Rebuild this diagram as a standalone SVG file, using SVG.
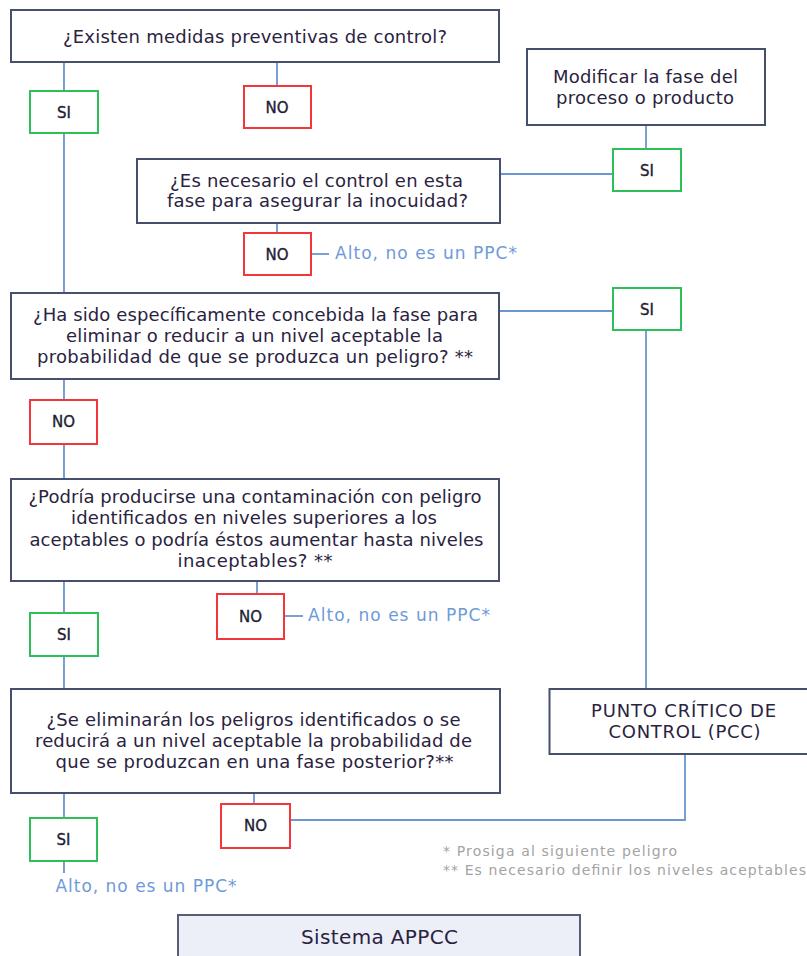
<svg xmlns="http://www.w3.org/2000/svg" width="807" height="956" viewBox="0 0 807 956">
<style>
.q{fill:#fff;stroke:#46506c;stroke-width:2}
.si{fill:#fff;stroke:#2fbf5a;stroke-width:2}
.no{fill:#fff;stroke:#f2363a;stroke-width:2}
.t{font-family:"DejaVu Sans",Verdana,sans-serif;font-size:18px;fill:#2a2340}
.lb{font-family:"DejaVu Sans",Verdana,sans-serif;font-size:15px;fill:#221c33;stroke:#221c33;stroke-width:0.35;text-anchor:middle}
.alto{font-family:"DejaVu Sans",Verdana,sans-serif;font-size:17px;fill:#6e9ad8}
.note{font-family:"DejaVu Sans",Verdana,sans-serif;font-size:14px;fill:#a3a3a3}
.c{fill:none;stroke:#6b96d0;stroke-width:1.8}
</style>
<rect width="807" height="956" fill="#fff"/>
<g id="connectors">
<path class="c" d="M64 62V91M64 133V293"/>
<path class="c" d="M277 62V86M277 223V233"/>
<path class="c" d="M311 254H329"/>
<path class="c" d="M646 125V149"/>
<path class="c" d="M500 174H613"/>
<path class="c" d="M499 311H613"/>
<path class="c" d="M646 331V689"/>
<path class="c" d="M64 379V400M64 444V479"/>
<path class="c" d="M64 581V613M64 656V689"/>
<path class="c" d="M257 581V594"/>
<path class="c" d="M284 616H303"/>
<path class="c" d="M64 793V818M64 861V873"/>
<path class="c" d="M254 793V804"/>
<path class="c" d="M685 754V820H290"/>
</g>
<g id="q1">
<rect class="q" x="11" y="10" width="488" height="52"/>
<text class="t" x="63" y="43" textLength="384" lengthAdjust="spacing">¿Existen medidas preventivas de control?</text>
</g>
<g id="si1"><rect class="si" x="30" y="91" width="68" height="42"/><text class="lb" x="64" y="117.5">SI</text></g>
<g id="no1"><rect class="no" x="244" y="86" width="67" height="42"/><text class="lb" x="277" y="112.5">NO</text></g>
<g id="modificar">
<rect class="q" x="527" y="49" width="238" height="76"/>
<text class="t" x="553" y="83" textLength="185" lengthAdjust="spacing">Modificar la fase del</text>
<text class="t" x="556" y="104" textLength="178" lengthAdjust="spacing">proceso o producto</text>
</g>
<g id="si2"><rect class="si" x="613" y="149" width="68" height="42"/><text class="lb" x="647" y="175.5">SI</text></g>
<g id="q2">
<rect class="q" x="137" y="159" width="363" height="64"/>
<text class="t" x="170" y="187" textLength="293" lengthAdjust="spacing">¿Es necesario el control en esta</text>
<text class="t" x="167" y="207" textLength="301" lengthAdjust="spacing">fase para asegurar la inocuidad?</text>
</g>
<g id="no2"><rect class="no" x="244" y="233" width="67" height="42"/><text class="lb" x="277" y="259.5">NO</text></g>
<text id="alto1" class="alto" x="335" y="259" textLength="182" lengthAdjust="spacing">Alto, no es un PPC*</text>
<g id="q3">
<rect class="q" x="11" y="293" width="488" height="86"/>
<text class="t" x="33" y="320.5" textLength="445" lengthAdjust="spacing">¿Ha sido específicamente concebida la fase para</text>
<text class="t" x="66" y="341.5" textLength="377" lengthAdjust="spacing">eliminar o reducir a un nivel aceptable la</text>
<text class="t" x="37" y="362.5" textLength="436" lengthAdjust="spacing">probabilidad de que se produzca un peligro? **</text>
</g>
<g id="si3"><rect class="si" x="613" y="288" width="68" height="42"/><text class="lb" x="647" y="314.5">SI</text></g>
<g id="no3"><rect class="no" x="30" y="400" width="67" height="44"/><text class="lb" x="63.5" y="427">NO</text></g>
<g id="q4">
<rect class="q" x="11" y="479" width="488" height="102"/>
<text class="t" x="28.5" y="503" textLength="453" lengthAdjust="spacing">¿Podría producirse una contaminación con peligro</text>
<text class="t" x="71" y="524" textLength="366" lengthAdjust="spacing">identificados en niveles superiores a los</text>
<text class="t" x="29.5" y="545.5" textLength="454" lengthAdjust="spacing">aceptables o podría éstos aumentar hasta niveles</text>
<text class="t" x="177.5" y="567" textLength="155" lengthAdjust="spacing">inaceptables? **</text>
</g>
<g id="si4"><rect class="si" x="30" y="613" width="68" height="43"/><text class="lb" x="64" y="639.5">SI</text></g>
<g id="no4"><rect class="no" x="217" y="594" width="67" height="45"/><text class="lb" x="250.5" y="621.5">NO</text></g>
<text id="alto2" class="alto" x="308" y="620.5" textLength="182" lengthAdjust="spacing">Alto, no es un PPC*</text>
<g id="q5">
<rect class="q" x="11" y="689" width="489" height="104"/>
<text class="t" x="46.5" y="725.5" textLength="414" lengthAdjust="spacing">¿Se eliminarán los peligros identificados o se</text>
<text class="t" x="35" y="746.5" textLength="437" lengthAdjust="spacing">reducirá a un nivel aceptable la probabilidad de</text>
<text class="t" x="55.5" y="767.5" textLength="398" lengthAdjust="spacing">que se produzcan en una fase posterior?**</text>
</g>
<g id="pcc">
<rect class="q" x="549.5" y="689" width="270" height="65"/>
<text class="t" x="591" y="717" textLength="185" lengthAdjust="spacing">PUNTO CRÍTICO DE</text>
<text class="t" x="608.5" y="738" textLength="152" lengthAdjust="spacing">CONTROL (PCC)</text>
</g>
<g id="si5"><rect class="si" x="30" y="818" width="67" height="43"/><text class="lb" x="63.5" y="844.5">SI</text></g>
<g id="no5"><rect class="no" x="221" y="804" width="69" height="44"/><text class="lb" x="255.5" y="831">NO</text></g>
<text id="alto3" class="alto" x="55.5" y="891.5" textLength="181" lengthAdjust="spacing">Alto, no es un PPC*</text>
<g id="notes">
<text class="note" x="443" y="856" textLength="234" lengthAdjust="spacing">* Prosiga al siguiente peligro</text>
<text class="note" x="443" y="875" textLength="363" lengthAdjust="spacing">** Es necesario definir los niveles aceptables</text>
</g>
<g id="sistema">
<rect x="178" y="915" width="402" height="60" fill="#eceef8" stroke="#555d78" stroke-width="2"/>
<text class="t" x="301" y="944" style="font-size:20px" textLength="157" lengthAdjust="spacing">Sistema APPCC</text>
</g>
</svg>
